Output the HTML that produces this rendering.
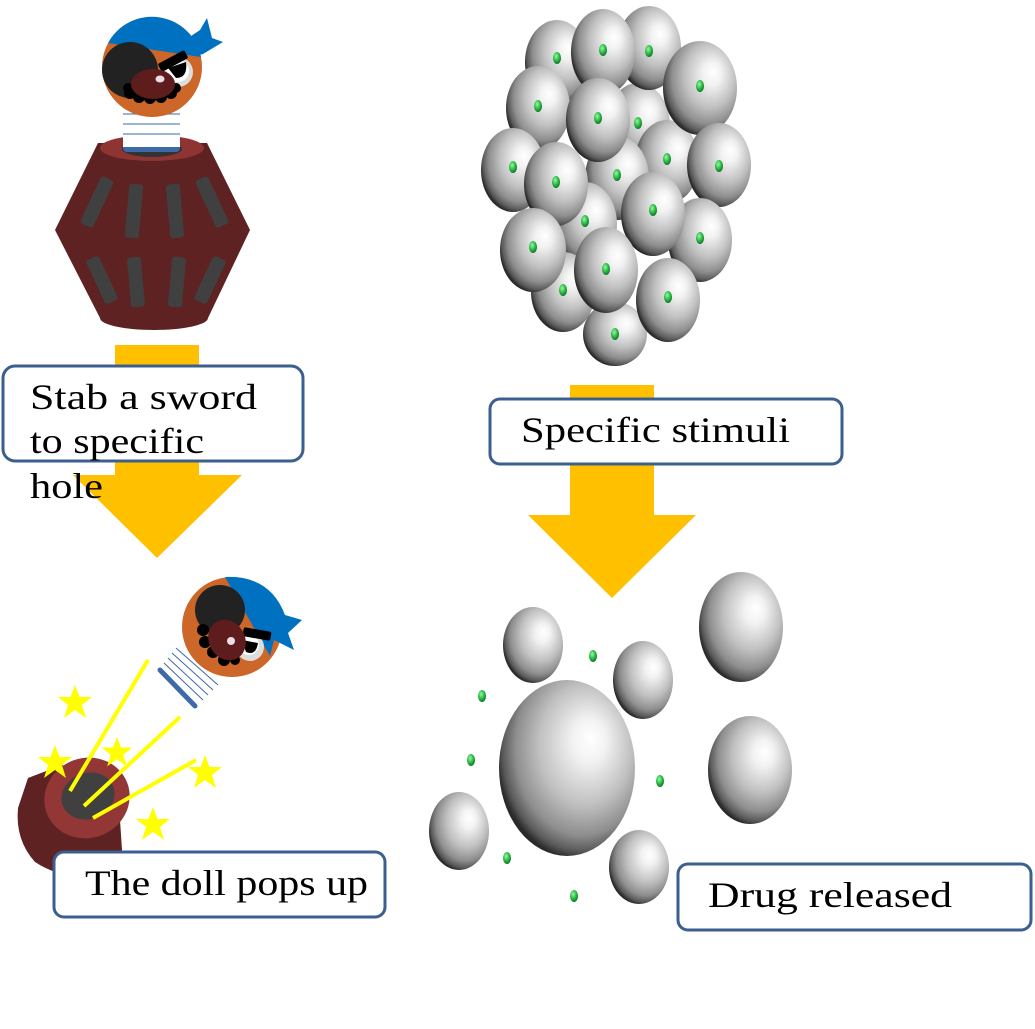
<!DOCTYPE html>
<html><head><meta charset="utf-8"><style>
html,body{margin:0;padding:0;background:#fff;}
svg{display:block;}
text{font-family:"Liberation Serif",serif;fill:#000;}
</style></head><body>
<svg width="1035" height="1029" viewBox="0 0 1035 1029" xmlns="http://www.w3.org/2000/svg">
<defs>
<radialGradient id="sp" cx="0.6" cy="0.4" r="0.62" fx="0.68" fy="0.33">
<stop offset="0" stop-color="#ffffff"/>
<stop offset="0.2" stop-color="#f2f2f2"/>
<stop offset="0.55" stop-color="#c0c0c0"/>
<stop offset="0.8" stop-color="#8e8e8e"/>
<stop offset="0.93" stop-color="#5a5a5a"/>
<stop offset="1" stop-color="#2a2a2a"/>
</radialGradient>
<radialGradient id="gd" cx="0.4" cy="0.35" r="0.7">
<stop offset="0" stop-color="#9ff5a8"/>
<stop offset="0.5" stop-color="#2ec24a"/>
<stop offset="1" stop-color="#0d6a22"/>
</radialGradient>
<g id="star"><polygon points="0,-17 4.5,-5 17,-5 7,3 11,16 0,8 -11,16 -7,3 -17,-5 -4.5,-5" fill="#ffff00"/></g>
</defs>

<!-- Top cluster -->
<g>
<g fill="url(#sp)">
<ellipse cx="557" cy="62" rx="32" ry="42"/>
<ellipse cx="638" cy="125" rx="32" ry="42"/>
<ellipse cx="667" cy="162" rx="32" ry="42"/>
<ellipse cx="617" cy="178" rx="32" ry="42"/>
<ellipse cx="585" cy="224" rx="32" ry="42"/>
<ellipse cx="563" cy="292" rx="32" ry="40"/>
<ellipse cx="615" cy="334" rx="32" ry="32"/>
<ellipse cx="538" cy="108" rx="32" ry="42"/>
<ellipse cx="513" cy="170" rx="32" ry="42"/>
<ellipse cx="649" cy="48" rx="32" ry="42"/>
<ellipse cx="700" cy="88" rx="37" ry="47"/>
<ellipse cx="603" cy="52" rx="32" ry="43"/>
<ellipse cx="598" cy="120" rx="32" ry="42"/>
<ellipse cx="719" cy="165" rx="32" ry="42"/>
<ellipse cx="556" cy="184" rx="32" ry="42"/>
<ellipse cx="533" cy="250" rx="33" ry="42"/>
<ellipse cx="700" cy="240" rx="32" ry="42"/>
<ellipse cx="653" cy="214" rx="32" ry="42"/>
<ellipse cx="606" cy="270" rx="32" ry="43"/>
<ellipse cx="668" cy="300" rx="32" ry="42"/>
</g>
<g fill="url(#gd)">
<ellipse cx="557" cy="58" rx="4" ry="6"/><ellipse cx="603" cy="50" rx="4" ry="6"/>
<ellipse cx="649" cy="51" rx="4" ry="6"/><ellipse cx="700" cy="86" rx="4" ry="6"/>
<ellipse cx="538" cy="106" rx="4" ry="6"/><ellipse cx="598" cy="118" rx="4" ry="6"/>
<ellipse cx="638" cy="123" rx="4" ry="6"/><ellipse cx="513" cy="167" rx="4" ry="6"/>
<ellipse cx="556" cy="182" rx="4" ry="6"/><ellipse cx="617" cy="175" rx="4" ry="6"/>
<ellipse cx="667" cy="159" rx="4" ry="6"/><ellipse cx="719" cy="166" rx="4" ry="6"/>
<ellipse cx="533" cy="247" rx="4" ry="6"/><ellipse cx="585" cy="221" rx="4" ry="6"/>
<ellipse cx="653" cy="210" rx="4" ry="6"/><ellipse cx="700" cy="238" rx="4" ry="6"/>
<ellipse cx="563" cy="290" rx="4" ry="6"/><ellipse cx="606" cy="269" rx="4" ry="6"/>
<ellipse cx="668" cy="297" rx="4" ry="6"/><ellipse cx="615" cy="334" rx="4" ry="6"/>
</g>
</g>

<!-- Arrows -->
<rect x="115" y="345" width="84" height="131" fill="#ffc000"/>
<polygon points="73,475 242,475 157,558" fill="#ffc000"/>
<rect x="570" y="385" width="84" height="131" fill="#ffc000"/>
<polygon points="528,515 696,515 612,598" fill="#ffc000"/>

<!-- Top doll -->
<g>
<polygon points="98,143 207,143 250,230 208,318 100,318 55,230" fill="#5e2222"/>
<ellipse cx="154" cy="318" rx="54" ry="12" fill="#5e2222"/>
<ellipse cx="152" cy="148" rx="52" ry="13" fill="#8e3432"/>
<ellipse cx="152" cy="149" rx="30" ry="8" fill="#333"/>
<g fill="#404040">
<rect x="-7" y="-26" width="14" height="52" rx="3" transform="translate(97,202) rotate(25)"/>
<rect x="-7" y="-27" width="14" height="54" rx="3" transform="translate(134,211) rotate(5)"/>
<rect x="-7" y="-27" width="14" height="54" rx="3" transform="translate(175,211) rotate(-5)"/>
<rect x="-7" y="-26" width="14" height="52" rx="3" transform="translate(212,202) rotate(-25)"/>
<rect x="-7" y="-24" width="14" height="48" rx="3" transform="translate(102,280) rotate(-25)"/>
<rect x="-7" y="-25" width="14" height="50" rx="3" transform="translate(136,282) rotate(-5)"/>
<rect x="-7" y="-25" width="14" height="50" rx="3" transform="translate(177,282) rotate(5)"/>
<rect x="-7" y="-24" width="14" height="48" rx="3" transform="translate(210,280) rotate(25)"/>
</g>
<rect x="123" y="140" width="57" height="12" rx="4" fill="#3e6aa8"/>
<rect x="123" y="110" width="57" height="37" fill="#fff"/>
<g stroke="#3e6aa8" stroke-width="1"><line x1="123" y1="114" x2="180" y2="114"/><line x1="123" y1="124" x2="180" y2="124"/><line x1="123" y1="134" x2="180" y2="134"/></g>
<circle cx="152" cy="67" r="50" fill="#cc6629"/>
<path d="M108,43 A50,50 0 0 1 201,57 Z" fill="#0070c0"/>
<polygon points="188,38 200,30 207,18 212,38 223,42 203,54 195,56" fill="#0070c0"/>
<circle cx="130" cy="70" r="28" fill="#222"/>
<circle cx="178" cy="72" r="15" fill="#ddd"/><circle cx="178" cy="71" r="11" fill="#fff"/>
<path d="M168,68 L186,62 Q188,78 176,78 Z" fill="#000"/>
<rect x="-15" y="-4.5" width="30" height="9" rx="2" fill="#000" transform="translate(173,61) rotate(-28)"/>
<g fill="#000"><circle cx="130" cy="93" r="6"/><circle cx="139" cy="97" r="6"/><circle cx="150" cy="98" r="6"/><circle cx="161" cy="97" r="6"/><circle cx="171" cy="93" r="6"/><circle cx="128" cy="88" r="5"/><circle cx="176" cy="88" r="5"/></g>
<ellipse cx="153" cy="84" rx="22" ry="15" fill="#5e1c1c"/>
<ellipse cx="160" cy="79" rx="4.5" ry="3.5" fill="#e8dde8"/>
</g>

<!-- Bottom cannon -->
<g>
<path d="M28,778 L62,765 L118,790 L122,850 L112,870 Q70,885 35,862 Q15,840 18,808 Z" fill="#5e2222"/>
<ellipse cx="87" cy="798" rx="43" ry="40" fill="#933636" transform="rotate(-20 87 798)"/>
<ellipse cx="88" cy="796" rx="27" ry="23" fill="#404040" transform="rotate(-20 88 796)"/>
<g stroke="#ffff00" stroke-width="4" stroke-linecap="butt">
<line x1="148" y1="660" x2="70" y2="791"/>
<line x1="180" y1="717" x2="84" y2="806"/>
<line x1="196" y1="760" x2="93" y2="818"/>
</g>
<use href="#star" transform="translate(75,702)"/>
<use href="#star" transform="translate(55,762)"/>
<use href="#star" transform="translate(117,752) scale(0.9)"/>
<use href="#star" transform="translate(205,772)"/>
<use href="#star" transform="translate(153,824)"/>
</g>

<!-- Flying doll -->
<g>
<polygon points="160,668 178,645 222,680 197,706" fill="#fff"/>
<line x1="160" y1="670" x2="195" y2="706" stroke="#3e6aa8" stroke-width="5" stroke-linecap="round"/>
<g stroke="#3e6aa8" stroke-width="1">
<line x1="164" y1="663" x2="203" y2="700"/>
<line x1="168" y1="658" x2="208" y2="695"/>
<line x1="172" y1="653" x2="213" y2="690"/>
<line x1="176" y1="648" x2="218" y2="685"/>
</g>
<circle cx="232" cy="627" r="50" fill="#cc6629"/>
<path d="M225,577 Q270,575 285,615 L302,620 L288,633 L294,650 L274,640 L270,656 Z" fill="#0070c0"/>
<circle cx="220" cy="610" r="25" fill="#222"/>
<circle cx="250" cy="647" r="14" fill="#ddd"/><circle cx="249" cy="645" r="10" fill="#fff"/>
<path d="M242,640 L258,643 Q256,656 246,652 Z" fill="#000"/>
<rect x="-14" y="-4.5" width="28" height="9" rx="2" fill="#000" transform="translate(257,634) rotate(10)"/>
<g fill="#000"><circle cx="203" cy="630" r="6"/><circle cx="205" cy="642" r="6"/><circle cx="213" cy="652" r="6"/><circle cx="224" cy="660" r="6"/><circle cx="235" cy="660" r="5"/></g>
<ellipse cx="227" cy="640" rx="18" ry="21" fill="#5e1c1c" transform="rotate(-30 227 640)"/>
<circle cx="231" cy="641" r="4" fill="#e8dde8"/>
</g>

<!-- Bottom right spheres -->
<g fill="url(#sp)">
<ellipse cx="533" cy="645" rx="30" ry="38"/>
<ellipse cx="643" cy="680" rx="30" ry="39"/>
<ellipse cx="741" cy="627" rx="42" ry="55"/>
<ellipse cx="567" cy="768" rx="68" ry="88"/>
<ellipse cx="750" cy="770" rx="42" ry="54"/>
<ellipse cx="459" cy="831" rx="30" ry="39"/>
<ellipse cx="639" cy="867" rx="30" ry="37"/>
</g>
<g fill="url(#gd)">
<ellipse cx="593" cy="656" rx="4" ry="6"/><ellipse cx="482" cy="696" rx="4" ry="6"/>
<ellipse cx="471" cy="760" rx="4" ry="6"/><ellipse cx="660" cy="781" rx="4" ry="6"/>
<ellipse cx="507" cy="858" rx="4" ry="6"/><ellipse cx="574" cy="896" rx="4" ry="6"/>
</g>

<!-- Text boxes -->
<g fill="#fff" stroke="#3b5f8e" stroke-width="3">
<rect x="3" y="366" width="300" height="95" rx="12"/>
<rect x="490" y="399" width="352" height="65" rx="10"/>
<rect x="54" y="852" width="331" height="65" rx="10"/>
<rect x="678" y="864" width="353" height="66" rx="10"/>
</g>
<text x="30" y="409" font-size="36" textLength="227" lengthAdjust="spacingAndGlyphs">Stab a sword</text>
<text x="30" y="453" font-size="36" textLength="174" lengthAdjust="spacingAndGlyphs">to specific</text>
<text x="30" y="498" font-size="36" textLength="73" lengthAdjust="spacingAndGlyphs">hole</text>
<text x="521" y="442" font-size="36" textLength="269" lengthAdjust="spacingAndGlyphs">Specific stimuli</text>
<text x="85" y="895" font-size="36" textLength="283" lengthAdjust="spacingAndGlyphs">The doll pops up</text>
<text x="708" y="907" font-size="36" textLength="244" lengthAdjust="spacingAndGlyphs">Drug released</text>
</svg>
</body></html>
